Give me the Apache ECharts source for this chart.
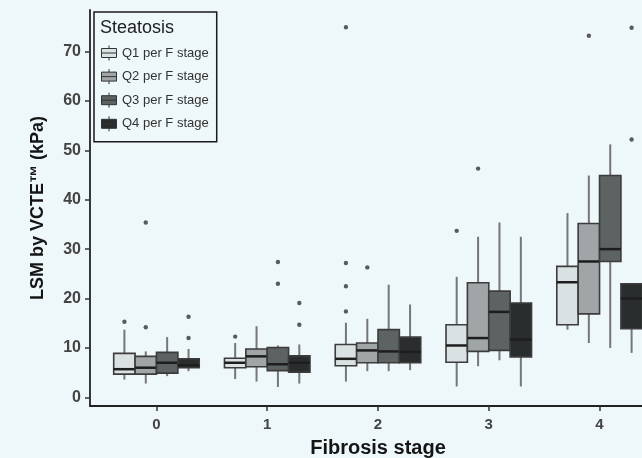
<!DOCTYPE html>
<html>
<head>
<meta charset="utf-8">
<script src="https://cdn.jsdelivr.net/npm/echarts@6/dist/echarts.min.js"></script>
<style>
  html, body { margin: 0; padding: 0; background: #eef7fa; }
  #chart { width: 642px; height: 458px; }
</style>
</head>
<body>
<div id="chart"></div>
<script>
// fibrosis stages and tick labels
const stages = [0, 1, 2, 3, 4];
const yTicks = [0, 10, 20, 30, 40, 50, 60, 70];
const groupNames = ['Q1 per F stage', 'Q2 per F stage', 'Q3 per F stage', 'Q4 per F stage'];

// [lower whisker, Q1, median, Q3, upper whisker] per stage
const q1Box = [[3.6, 4.7, 5.7, 8.9, 13.7], [3.7, 6.0, 7.0, 7.9, 11.0], [3.2, 6.4, 7.8, 10.7, 15.1], [2.2, 7.1, 10.5, 14.7, 24.4], [13.7, 14.7, 23.3, 26.5, 37.3]];
const q2Box = [[2.8, 4.7, 6.0, 8.3, 9.3], [3.2, 6.2, 8.3, 9.8, 14.4], [5.3, 7.0, 9.5, 11.0, 15.9], [6.3, 9.3, 12.0, 23.2, 32.5], [11.0, 16.9, 27.5, 35.2, 44.9]];
const q3Box = [[4.3, 4.9, 7.0, 9.1, 12.2], [2.1, 5.4, 6.7, 10.1, 10.5], [5.3, 7.0, 9.3, 13.7, 22.8], [7.5, 9.5, 17.3, 21.5, 35.4], [10.0, 27.5, 30.0, 44.9, 51.2]];
const q4Box = [[5.3, 6.0, 6.5, 7.8, 9.8], [2.8, 5.1, 7.0, 8.4, 10.7], [5.5, 7.0, 9.2, 12.2, 18.8], [2.2, 8.2, 11.7, 19.1, 32.5], [9.0, 13.9, 20.0, 23.0, 23.0]];

// outliers: [stage, value]
const q1Out = [[0, 15.3], [1, 12.3], [2, 74.9], [2, 27.2], [2, 22.5], [2, 17.4], [3, 33.7]];
const q2Out = [[0, 35.4], [0, 14.2], [2, 26.3], [3, 46.3], [4, 73.2]];
const q3Out = [[1, 27.4], [1, 23.0]];
const q4Out = [[0, 16.3], [0, 12.0], [1, 19.1], [1, 14.7], [4, 74.8], [4, 52.2]];

const boxes = [q1Box, q2Box, q3Box, q4Box];
const outliers = [q1Out, q2Out, q3Out, q4Out];
const fills = ['#dae1e3', '#a0a5a7', '#5d6263', '#2a2d2e'];
const BOX_W = 0.193;
const FONT = 'Liberation Sans, Arial, sans-serif';

const chart = echarts.init(document.getElementById('chart'));

function boxRender (qi) {
  return function (params, api) {
    const cx = api.value(0) + (qi - 1.5) * BOX_W;
    const lo = api.coord([cx, api.value(1)]);
    const q1 = api.coord([cx, api.value(2)]);
    const med = api.coord([cx, api.value(3)]);
    const q3 = api.coord([cx, api.value(4)]);
    const hi = api.coord([cx, api.value(5)]);
    const half = api.size([BOX_W, 0])[0] / 2;
    return {
      type: 'group',
      children: [
        { type: 'line', shape: { x1: lo[0], y1: lo[1], x2: hi[0], y2: hi[1] },
          style: { stroke: '#767676', lineWidth: 2 } },
        { type: 'rect', shape: { x: q3[0] - half, y: q3[1], width: half * 2, height: q1[1] - q3[1] },
          style: { fill: fills[qi], stroke: '#3c3c3c', lineWidth: 1.6 } },
        { type: 'line', shape: { x1: med[0] - half, y1: med[1], x2: med[0] + half, y2: med[1] },
          style: { stroke: '#1e1e1e', lineWidth: 2.5 } }
      ]
    }
  }
}

function outRender (qi) {
  return function (params, api) {
    const p = api.coord([api.value(0) + (qi - 1.5) * BOX_W, api.value(1)]);
    return { type: 'circle', shape: { cx: p[0], cy: p[1], r: 2.2 }, style: { fill: '#5a5a5a' } };
  }
}

const series = [];
boxes.forEach(function (b, qi) {
  series.push({
    name: groupNames[qi],
    type: 'custom',
    renderItem: boxRender(qi),
    itemStyle: { color: fills[qi], borderColor: '#333', borderWidth: 1 },
    encode: { x: 0, y: [1, 2, 3, 4, 5] },
    data: b.map(function (v, s) { return [stages[s]].concat(v) })
  });
});
outliers.forEach(function (o, qi) {
  series.push({
    name: 'out' + qi,
    type: 'custom',
    renderItem: outRender(qi),
    encode: { x: 0, y: 1 },
    data: o
  });
});

chart.setOption({
  backgroundColor: '#eef7fa',
  animation: false,
  title: {
    text: 'Steatosis', left: 100, top: 19, padding: 0,
    textStyle: { fontSize: 18, fontWeight: 'normal', color: '#222', fontFamily: FONT }
  },
  legend: {
    orient: 'vertical', left: 94, top: 12,
    padding: [33, 8, 10, 7],
    itemWidth: 16, itemHeight: 15, itemGap: 7.6,
    icon: 'path://M0,3L15,3L15,12L0,12Z M0,7.5L15,7.5 M7.5,0L7.5,3 M7.5,12L7.5,15',
    borderColor: '#1a1a1a', borderWidth: 1.5, backgroundColor: '#eef7fa',
    textStyle: { fontSize: 13, color: '#333', fontFamily: FONT },
    data: groupNames.map(function (n, i) {
      return { name: n, itemStyle: { color: fills[i], borderColor: '#333', borderWidth: 1 } }
    })
  },
  grid: { left: 90, right: -24, top: 10, bottom: 52, outerBoundsMode: 'none' },
  xAxis: {
    type: 'value', min: -0.6, max: 4.6,
    name: 'Fibrosis stage', nameLocation: 'middle', nameGap: 32,
    nameTextStyle: { fontSize: 20, fontWeight: 'bold', color: '#151515', fontFamily: FONT },
    axisLine: { onZero: false, lineStyle: { color: '#222', width: 1.8 } },
    axisTick: { customValues: stages, length: 5, lineStyle: { color: '#333', width: 1.5 } },
    axisLabel: { customValues: stages, margin: 11, fontSize: 15, fontWeight: 'bold', color: '#444', fontFamily: FONT },
    splitLine: { show: false }
  },
  yAxis: {
    type: 'value', min: -1.75, max: 78.4,
    name: 'LSM by VCTE™ (kPa)', nameLocation: 'middle', nameGap: 43, nameRotate: 90,
    nameTextStyle: { fontSize: 18, fontWeight: 'bold', color: '#151515', fontFamily: FONT },
    axisLine: { show: true, onZero: false, lineStyle: { color: '#222', width: 1.8 } },
    axisTick: { show: true, customValues: yTicks, length: 5, lineStyle: { color: '#333', width: 1.5 } },
    axisLabel: { customValues: yTicks, margin: 9, fontSize: 16, fontWeight: 'bold', color: '#444', fontFamily: FONT },
    splitLine: { show: false }
  },
  series: series
});
</script>
</body>
</html>
